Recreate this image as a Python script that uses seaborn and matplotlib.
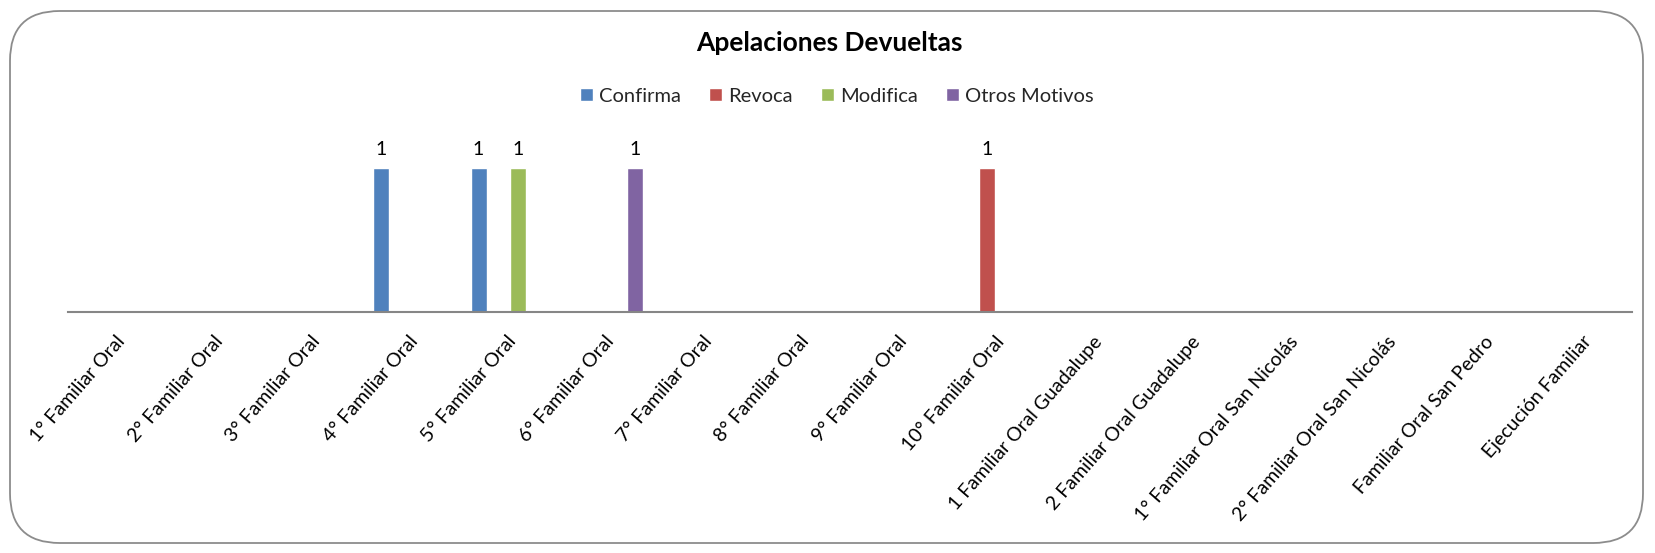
import matplotlib
matplotlib.use("Agg")
import matplotlib.pyplot as plt
import matplotlib.transforms as mtransforms
from matplotlib.patches import FancyBboxPatch
import seaborn as sns
import pandas as pd

categories = ["1° Familiar Oral", "2° Familiar Oral", "3° Familiar Oral", "4° Familiar Oral",
              "5° Familiar Oral", "6° Familiar Oral", "7° Familiar Oral", "8° Familiar Oral",
              "9° Familiar Oral", "10° Familiar Oral", "1 Familiar Oral Guadalupe",
              "2 Familiar Oral Guadalupe", "1° Familiar Oral San Nicolás",
              "2° Familiar Oral San Nicolás", "Familiar Oral San Pedro", "Ejecución Familiar"]
series = ["Confirma", "Revoca", "Modifica", "Otros Motivos"]
confirma = [0, 0, 0, 1, 1, 0, 0, 0, 0, 0, 0, 0, 0, 0, 0, 0]
revoca   = [0, 0, 0, 0, 0, 0, 0, 0, 0, 1, 0, 0, 0, 0, 0, 0]
modifica = [0, 0, 0, 0, 1, 0, 0, 0, 0, 0, 0, 0, 0, 0, 0, 0]
otros    = [0, 0, 0, 0, 0, 1, 0, 0, 0, 0, 0, 0, 0, 0, 0, 0]
colors = ["#4F81BD", "#C0504D", "#9BBB59", "#8064A2"]

rows = []
for name, vals in zip(series, [confirma, revoca, modifica, otros]):
    for c, v in zip(categories, vals):
        rows.append({"cat": c, "serie": name, "val": v})
df = pd.DataFrame(rows)

sns.set_theme(style="white")
plt.rcParams["font.family"] = ["Lato", "DejaVu Sans"]

fig = plt.figure(figsize=(16.55, 5.53), dpi=100)
ax = fig.add_axes([68 / 1655, 1 - 312 / 553, (1632 - 68) / 1655, (312 - 139) / 553])

sns.barplot(data=df, x="cat", y="val", hue="serie", order=categories, hue_order=series,
            palette=colors, width=0.8, gap=0.18, saturation=1, ax=ax, legend=True,
            errorbar=None)

ax.set_ylim(0, 1.2)
ax.set_xlim(-0.5, len(categories) - 0.5)
ax.set_xlabel("")
ax.set_ylabel("")
ax.set_yticks([])
for s in ["left", "right", "top"]:
    ax.spines[s].set_visible(False)
ax.spines["bottom"].set_color("#868686")
ax.spines["bottom"].set_linewidth(1.5)
ax.tick_params(axis="x", length=0, pad=19)
ax.set_xticks(range(len(categories)))
ax.set_xticklabels(categories, rotation=49, ha="right", va="center",
                   rotation_mode="anchor", fontsize=14, color="black")
shift = mtransforms.ScaledTranslation(5 / 100, 0, fig.dpi_scale_trans)
for lbl in ax.get_xticklabels():
    lbl.set_transform(lbl.get_transform() + shift)

for cont in ax.containers:
    labels = [("%d" % b.get_height()) if b.get_height() > 0 else "" for b in cont]
    ax.bar_label(cont, labels=labels, padding=7, fontsize=14, color="black")

handles, labs = ax.get_legend_handles_labels()
ax.legend(handles, labs, loc="center", bbox_to_anchor=(837 / 1655, 1 - 96 / 553),
          bbox_transform=fig.transFigure, ncol=4, frameon=False, fontsize=14.5,
          handlelength=0.65, handleheight=0.65, handletextpad=0.3, columnspacing=1.4)

fig.text(829 / 1655, 1 - 43 / 553, "Apelaciones Devueltas", ha="center", va="center",
         fontsize=19, fontweight="bold", color="black")

border = FancyBboxPatch((10 / 1655, 10 / 553), 1633 / 1655, 532 / 553,
                        boxstyle="round,pad=0,rounding_size=0.03",
                        transform=fig.transFigure, facecolor="none",
                        edgecolor="#8c8c8c", linewidth=1.3, mutation_aspect=1655 / 553)
fig.patches.append(border)

fig.savefig("out.png", dpi=100, facecolor="white")
